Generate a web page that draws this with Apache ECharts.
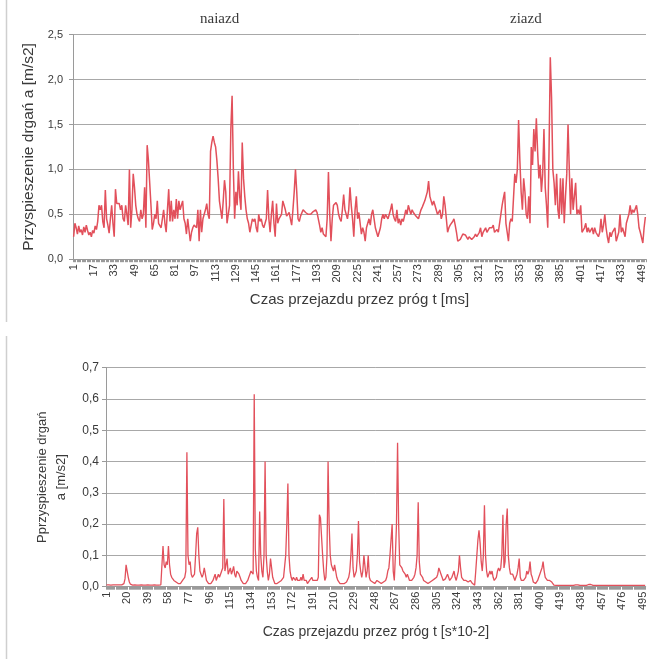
<!DOCTYPE html>
<html>
<head>
<meta charset="utf-8">
<script src="https://cdn.jsdelivr.net/npm/echarts@6/dist/echarts.min.js"></script>
<style>
html,body{margin:0;padding:0;background:#fff;}
#chart{width:651px;height:659px;}
</style>
</head>
<body>
<div id="chart"></div>
<script>
// ---------- DATA ----------
const topTitles = ['naiazd', 'ziazd'];
const topXName = 'Czas przejazdu przez próg t [ms]';
const topYName = 'Przyspieszenie drgań a [m/s2]';
const botXName = 'Czas przejazdu przez próg t [s*10-2]';
const botYName = 'Pprzyspieszenie drgań\na [m/s2]';

const topValues = [
0.25,0.40,0.35,0.28,0.37,0.30,0.33,0.27,0.36,0.30,
0.38,0.32,0.27,0.30,0.25,0.32,0.29,0.37,0.33,0.42,
0.60,0.55,0.60,0.42,0.35,0.77,0.45,0.38,0.29,0.45,
0.60,0.40,0.25,0.78,0.62,0.63,0.62,0.55,0.60,0.45,
0.42,0.60,0.50,0.38,1.00,0.35,0.55,0.95,0.80,0.60,
0.50,0.45,0.42,0.55,0.45,0.50,0.80,0.35,1.27,1.10,
0.85,0.60,0.33,0.40,0.50,0.45,0.65,0.40,0.38,0.35,
0.45,0.55,0.40,0.30,0.55,0.78,0.42,0.65,0.42,0.55,
0.45,0.67,0.45,0.65,0.55,0.60,0.65,0.45,0.40,0.28,
0.45,0.45,0.20,0.30,0.35,0.38,0.40,0.35,0.55,0.20,
0.55,0.30,0.45,0.50,0.55,0.62,0.50,0.45,1.20,1.30,
1.37,1.30,1.25,1.10,0.90,0.65,0.55,0.45,0.65,0.88,
0.75,0.40,0.50,0.60,1.45,1.82,1.00,0.45,0.75,0.60,
0.98,0.70,0.55,1.30,0.90,0.70,0.55,0.45,0.40,0.30,
0.30,0.45,0.42,0.45,0.35,0.30,0.50,0.42,0.45,0.38,
0.35,0.40,0.45,0.77,0.45,0.30,0.50,0.65,0.40,0.25,
0.62,0.40,0.45,0.45,0.50,0.65,0.60,0.55,0.48,0.50,
0.52,0.45,0.38,0.55,0.75,1.00,0.75,0.45,0.42,0.48,
0.50,0.55,0.53,0.52,0.50,0.50,0.48,0.50,0.52,0.53,
0.55,0.55,0.52,0.45,0.38,0.30,0.35,0.28,0.30,0.25,
0.45,0.97,0.50,0.20,0.45,0.60,0.62,0.63,0.60,0.50,
0.45,0.42,0.55,0.72,0.55,0.50,0.45,0.55,0.80,0.60,
0.45,0.25,0.55,0.70,0.45,0.52,0.50,0.28,0.35,0.30,
0.20,0.35,0.40,0.45,0.38,0.50,0.55,0.45,0.35,0.30,
0.25,0.30,0.35,0.45,0.50,0.45,0.50,0.48,0.45,0.50,
0.55,0.62,0.50,0.45,0.42,0.55,0.40,0.45,0.38,0.45,
0.42,0.48,0.55,0.50,0.60,0.55,0.50,0.55,0.52,0.50,
0.48,0.48,0.45,0.50,0.55,0.58,0.60,0.65,0.70,0.75,
0.87,0.70,0.65,0.60,0.65,0.60,0.55,0.50,0.52,0.55,
0.45,0.50,0.70,0.60,0.45,0.30,0.35,0.38,0.40,0.42,
0.45,0.38,0.30,0.20,0.20,0.22,0.25,0.28,0.27,0.27,
0.25,0.22,0.25,0.24,0.22,0.20,0.25,0.28,0.25,0.27,
0.30,0.35,0.25,0.30,0.32,0.35,0.30,0.28,0.35,0.33,
0.35,0.38,0.30,0.32,0.33,0.30,0.30,0.50,0.60,0.68,
0.75,0.40,0.30,0.20,0.40,0.45,0.42,0.40,0.95,0.85,
1.00,1.55,1.10,0.75,0.55,0.90,0.75,0.50,0.45,0.70,
0.40,1.25,1.05,1.45,1.20,1.57,1.20,0.90,1.05,0.75,
0.95,1.45,0.80,0.60,0.35,1.20,2.25,1.80,1.00,0.85,
0.60,0.95,0.55,0.45,0.90,0.50,0.90,0.40,0.70,0.95,
1.50,1.00,0.50,0.90,0.55,0.70,0.85,0.50,0.55,0.50,
0.60,0.30,0.28,0.35,0.40,0.30,0.35,0.30,0.32,0.35,
0.28,0.35,0.30,0.28,0.25,0.30,0.45,0.30,0.38,0.50,
0.35,0.25,0.18,0.30,0.25,0.30,0.28,0.35,0.20,0.25,
0.30,0.50,0.30,0.35,0.30,0.25,0.40,0.45,0.50,0.60,
0.50,0.55,0.52,0.50,0.60,0.50,0.35,0.30,0.28,0.18,0.35,0.47
];

const botValues = [
0.006,0.007,0.006,0.006,0.005,0.006,0.006,0.005,0.006,0.006,
0.006,0.005,0.006,0.006,0.006,0.007,0.010,0.025,0.070,0.050,
0.030,0.015,0.008,0.006,0.005,0.005,0.006,0.005,0.005,0.006,
0.005,0.005,0.006,0.005,0.005,0.006,0.005,0.005,0.006,0.005,
0.005,0.006,0.005,0.005,0.006,0.005,0.005,0.006,0.005,0.005,
0.006,0.010,0.130,0.070,0.060,0.080,0.070,0.130,0.070,0.040,
0.030,0.025,0.020,0.020,0.015,0.010,0.010,0.010,0.010,0.015,
0.020,0.020,0.030,0.050,0.430,0.100,0.070,0.080,0.040,0.030,
0.030,0.040,0.100,0.170,0.190,0.100,0.050,0.040,0.030,0.040,
0.060,0.040,0.020,0.015,0.010,0.010,0.010,0.015,0.020,0.030,
0.040,0.020,0.030,0.040,0.030,0.040,0.050,0.060,0.280,0.050,
0.070,0.090,0.040,0.050,0.060,0.040,0.050,0.065,0.040,0.030,
0.050,0.050,0.040,0.030,0.020,0.015,0.010,0.010,0.010,0.015,
0.020,0.030,0.040,0.050,0.050,0.040,0.615,0.120,0.050,0.030,
0.020,0.240,0.100,0.050,0.030,0.100,0.400,0.100,0.050,0.020,
0.040,0.090,0.060,0.030,0.020,0.010,0.010,0.010,0.010,0.015,
0.020,0.020,0.020,0.030,0.030,0.100,0.200,0.330,0.100,0.050,
0.030,0.020,0.030,0.025,0.020,0.030,0.020,0.025,0.020,0.030,
0.020,0.040,0.020,0.015,0.020,0.010,0.015,0.020,0.015,0.030,
0.020,0.015,0.020,0.015,0.020,0.030,0.230,0.220,0.225,0.100,
0.050,0.020,0.030,0.100,0.400,0.200,0.100,0.070,0.060,0.050,
0.070,0.050,0.030,0.020,0.015,0.010,0.010,0.010,0.010,0.010,
0.010,0.015,0.020,0.030,0.050,0.100,0.170,0.060,0.030,0.040,
0.050,0.100,0.210,0.080,0.050,0.030,0.050,0.100,0.100,0.030,
0.050,0.100,0.030,0.020,0.015,0.015,0.010,0.010,0.015,0.020,
0.020,0.015,0.010,0.010,0.015,0.015,0.020,0.020,0.030,0.050,
0.060,0.100,0.150,0.200,0.050,0.020,0.100,0.200,0.460,0.200,
0.070,0.070,0.060,0.050,0.050,0.040,0.030,0.040,0.030,0.020,
0.020,0.020,0.025,0.030,0.040,0.060,0.100,0.270,0.080,0.040,
0.040,0.030,0.020,0.020,0.015,0.010,0.010,0.010,0.015,0.020,
0.020,0.020,0.025,0.030,0.030,0.040,0.060,0.050,0.040,0.030,
0.020,0.020,0.025,0.030,0.040,0.030,0.020,0.020,0.030,0.040,
0.050,0.030,0.020,0.020,0.050,0.100,0.060,0.030,0.025,0.020,
0.020,0.020,0.015,0.015,0.020,0.020,0.015,0.010,0.010,0.005,
0.050,0.100,0.150,0.180,0.140,0.080,0.050,0.100,0.260,0.100,
0.050,0.030,0.040,0.050,0.040,0.050,0.030,0.020,0.020,0.030,
0.050,0.060,0.050,0.060,0.100,0.230,0.060,0.080,0.200,0.250,
0.100,0.060,0.040,0.040,0.040,0.030,0.020,0.030,0.040,0.060,
0.090,0.030,0.020,0.020,0.020,0.020,0.030,0.050,0.040,0.050,
0.080,0.040,0.030,0.015,0.010,0.010,0.015,0.020,0.030,0.040,
0.050,0.060,0.080,0.050,0.030,0.025,0.020,0.020,0.020,0.020,
0.015,0.010,0.005,0.004,0.004,0.004,0.004,0.004,0.004,0.004,
0.004,0.004,0.004,0.004,0.004,0.004,0.004,0.004,0.004,0.004,
0.004,0.005,0.006,0.007,0.006,0.005,0.004,0.004,0.004,0.004,
0.004,0.004,0.004,0.005,0.007,0.009,0.007,0.005,0.004,0.004,
0.004,0.004,0.004,0.004,0.004,0.004,0.004,0.004,0.004,0.004,
0.004,0.004,0.004,0.004,0.004,0.004,0.004,0.004,0.004,0.004,
0.004,0.004,0.004,0.004,0.004,0.004,0.004,0.004,0.004,0.004,
0.004,0.004,0.004,0.004,0.004,0.004,0.004,0.004,0.004,0.004,
0.004,0.004,0.004,0.004,0.004,0.004,0.004
];

// category labels (sample index, 1-based)
const topCategories = topValues.map((_, i) => String(i + 1));
const botCategories = botValues.map((_, i) => String(i + 1));

// ---------- STYLE ----------
const LINE = '#e2505b';
const AX = '#9a9a9a';
const TXT = '#3a3a3a';
const FONT = 'Liberation Sans';
const fmt = v => v.toFixed(1).replace('.', ',');

const chart = echarts.init(document.getElementById('chart'), null, {renderer: 'canvas'});

chart.setOption({
  animation: false,
  backgroundColor: '#ffffff',
  textStyle: {fontFamily: FONT},
  graphic: [
    {type: 'line', shape: {x1: 6.5, y1: 0, x2: 6.5, y2: 322}, style: {stroke: '#cfcfcf', lineWidth: 1.5}},
    {type: 'line', shape: {x1: 6.5, y1: 336, x2: 6.5, y2: 659}, style: {stroke: '#cfcfcf', lineWidth: 1.5}},
    {type: 'text', left: 200, top: 12, style: {text: topTitles[0], font: '15px "Liberation Serif"', fill: TXT}},
    {type: 'text', left: 510, top: 12, style: {text: topTitles[1], font: '15px "Liberation Serif"', fill: TXT}}
  ],
  grid: [
    {left: 73, top: 34.7, right: 5, height: 224.5},
    {left: 106, top: 367.7, right: 5.3, height: 219}
  ],
  xAxis: [
    {
      gridIndex: 0, type: 'category', data: topCategories, boundaryGap: true,
      axisLine: {lineStyle: {color: AX, width: 1}},
      axisTick: {show: true, interval: 0, length: 3, lineStyle: {color: AX}},
      axisLabel: {interval: 15, rotate: 90, fontSize: 11, color: TXT, margin: 5, fontFamily: FONT},
      splitLine: {show: false},
      name: topXName, nameLocation: 'middle', nameGap: 33,
      nameTextStyle: {fontSize: 15, color: TXT, fontFamily: FONT}
    },
    {
      gridIndex: 1, type: 'category', data: botCategories, boundaryGap: true,
      axisLine: {lineStyle: {color: AX, width: 1}},
      axisTick: {show: true, interval: 0, length: 3, lineStyle: {color: AX}},
      axisLabel: {interval: 18, rotate: 90, fontSize: 11, color: TXT, margin: 5, fontFamily: FONT},
      splitLine: {show: false},
      name: botXName, nameLocation: 'middle', nameGap: 38,
      nameTextStyle: {fontSize: 14, color: TXT, fontFamily: FONT}
    }
  ],
  yAxis: [
    {
      gridIndex: 0, type: 'value', min: 0, max: 2.5, interval: 0.5,
      axisLine: {show: true, lineStyle: {color: AX}},
      axisTick: {show: true, length: 4, lineStyle: {color: AX}},
      axisLabel: {formatter: fmt, fontSize: 11, color: TXT, margin: 10, fontFamily: FONT},
      splitLine: {show: true, lineStyle: {color: '#a8a8a8', width: 1}},
      name: topYName, nameLocation: 'middle', nameGap: 30, nameRotate: 90,
      nameTextStyle: {fontSize: 15.5, color: TXT, fontFamily: FONT}
    },
    {
      gridIndex: 1, type: 'value', min: 0, max: 0.7, interval: 0.1,
      axisLine: {show: true, lineStyle: {color: AX}},
      axisTick: {show: true, length: 4, lineStyle: {color: AX}},
      axisLabel: {formatter: fmt, fontSize: 12, color: TXT, margin: 7, fontFamily: FONT},
      splitLine: {show: true, lineStyle: {color: '#a8a8a8', width: 1}},
      name: botYName, nameLocation: 'middle', nameGap: 26, nameRotate: 90,
      nameTextStyle: {fontSize: 13, color: TXT, fontFamily: FONT, lineHeight: 19, align: 'center'}
    }
  ],
  series: [
    {type: 'line', xAxisIndex: 0, yAxisIndex: 0, data: topValues, showSymbol: false, symbol: 'none',
     lineStyle: {color: LINE, width: 1.5}, itemStyle: {color: LINE}},
    {type: 'line', xAxisIndex: 1, yAxisIndex: 1, data: botValues, showSymbol: false, symbol: 'none',
     lineStyle: {color: LINE, width: 1.3}, itemStyle: {color: LINE}}
  ]
});
</script>
</body>
</html>
